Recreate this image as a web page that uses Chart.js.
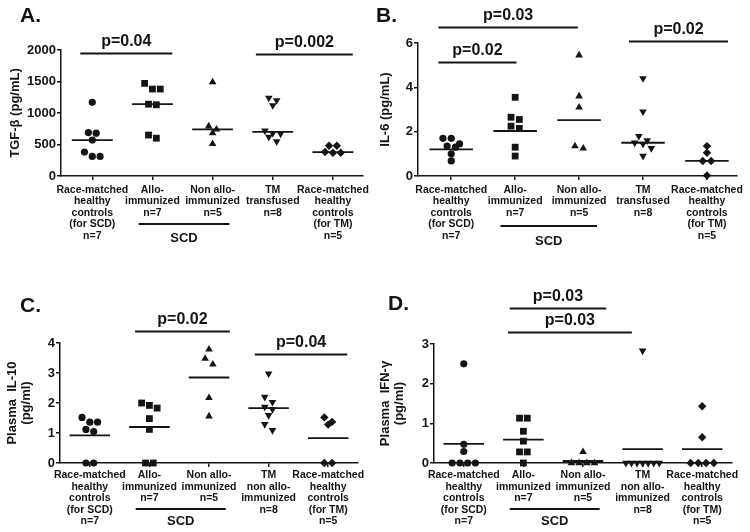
<!DOCTYPE html>
<html><head><meta charset="utf-8">
<script src="https://cdn.jsdelivr.net/npm/chart.js@4/dist/chart.umd.min.js"></script>
<style>
html,body{margin:0;padding:0;background:#fff;}
#wrap{position:relative;width:750px;height:532px;overflow:hidden;background:#fff;}
canvas{position:absolute;}
</style></head><body>
<div id="wrap">
<canvas id="cA" width="375" height="266" style="left:0;top:0"></canvas>
<canvas id="cB" width="375" height="266" style="left:375px;top:0"></canvas>
<canvas id="cC" width="375" height="266" style="left:0;top:266px"></canvas>
<canvas id="cD" width="375" height="266" style="left:375px;top:266px"></canvas>
</div>
<script>
// ---------- categories (tick labels) ----------
const categoriesTop = [
  ["Race-matched","healthy","controls","(for SCD)","n=7"],
  ["Allo-","immunized","n=7"],
  ["Non allo-","immunized","n=5"],
  ["TM","transfused","n=8"],
  ["Race-matched","healthy","controls","(for TM)","n=5"]
];
const categoriesBottom = [
  ["Race-matched","healthy","controls","(for SCD)","n=7"],
  ["Allo-","immunized","n=7"],
  ["Non allo-","immunized","n=5"],
  ["TM","non allo-","immunized","n=8"],
  ["Race-matched","healthy","controls","(for TM)","n=5"]
];

// ---------- A: TGF-beta (pg/mL) ----------
const tgfControlsSCD = [1170, 690, 680, 570, 380, 310, 310];
const tgfAllo        = [1470, 1380, 1380, 1140, 1130, 650, 600];
const tgfNonAllo     = [1490, 790, 740, 680, 510];
const tgfTM          = [1240, 1200, 1120, 720, 680, 670, 620, 550];
const tgfControlsTM  = [480, 480, 380, 370, 370];
const tgfLines       = [570, 1140, 740, 700, 380];
const tgfSig = [
  {from: -0.2, to: 1.33, y: 1952, label: "p=0.04"},
  {from: 2.72, to: 4.33, y: 1937, label: "p=0.002"}
];

// ---------- B: IL-6 (pg/mL) ----------
const il6ControlsSCD = [1.7, 1.7, 1.45, 1.35, 1.3, 1.0, 0.68];
const il6Allo        = [3.55, 2.65, 2.55, 2.25, 2.15, 1.3, 0.9];
const il6NonAllo     = [5.45, 3.6, 3.1, 1.35, 1.25];
const il6TM          = [4.4, 2.9, 1.8, 1.6, 1.5, 1.45, 1.25, 0.9];
const il6ControlsTM  = [1.35, 1.05, 0.68, 0.68, 0.02];
const il6Lines       = [1.2, 2.03, 2.52, 1.5, 0.68];
const il6Sig = [
  {from: -0.2, to: 1.98, y: 6.72, label: "p=0.03"},
  {from: -0.2, to: 1.02, y: 5.14, label: "p=0.02"},
  {from: 2.78, to: 4.33, y: 6.09, label: "p=0.02"}
];

// ---------- C: Plasma IL-10 (pg/ml) ----------
const il10ControlsSCD = [1.52, 1.36, 1.36, 1.12, 1.05, 0, 0];
const il10Allo        = [2.0, 1.92, 1.83, 1.48, 1.12, 0, 0];
const il10NonAllo     = [3.79, 3.48, 3.29, 2.17, 1.56];
const il10TM          = [2.98, 2.2, 2.03, 1.87, 1.79, 1.59, 1.29, 1.09];
const il10ControlsTM  = [1.52, 1.37, 1.28, 0, 0];
const il10Lines       = [0.92, 1.2, 2.85, 1.83, 0.83];
const il10Sig = [
  {from: 0.76, to: 2.35, y: 4.39, label: "p=0.02"},
  {from: 2.77, to: 4.32, y: 3.62, label: "p=0.04"}
];

// ---------- D: Plasma IFN-gamma (pg/ml) ----------
const ifnControlsSCD = [2.5, 0.47, 0.29, 0, 0, 0, 0];
const ifnAllo        = [1.13, 1.13, 0.8, 0.55, 0.28, 0.28, 0];
const ifnNonAllo     = [0.28, 0, 0, 0, 0];
const ifnTM          = [2.83, 0, 0, 0, 0, 0, 0, 0];
const ifnControlsTM  = [1.43, 0.65, 0, 0, 0, 0];
const ifnLines       = [0.48, 0.59, 0.05, 0.35, 0.35];
const ifnSig = [
  {from: 0.77, to: 2.39, y: 3.91, label: "p=0.03"},
  {from: 0.74, to: 2.82, y: 3.31, label: "p=0.03"}
];

// ---------- styling / layout (not data) ----------
const INK = '#141414';
const FAM = '"Liberation Sans", Arial, Helvetica, sans-serif';
Chart.defaults.font.family = FAM;
Chart.defaults.color = INK;

const markers = [
  {pointStyle: 'circle',   r: 3.6, rot: 0},
  {pointStyle: 'rect',     r: 4.8, rot: 0},
  {pointStyle: 'triangle', r: 4.4, rot: 0},
  {pointStyle: 'triangle', r: 4.4, rot: 180},
  {pointStyle: 'rectRot',  r: 4.2, rot: 0}
];

// spread points with close values side by side (column scatter layout)
function spread(values, yMax) {
  const thr = yMax * 0.05;
  const sorted = values.map((v, i) => ({v, i})).sort((a, b) => b.v - a.v);
  const clusters = [];
  sorted.forEach(p => {
    const c = clusters[clusters.length - 1];
    if (c && c[0].v - p.v < thr) c.push(p); else clusters.push([p]);
  });
  const offs = new Array(values.length).fill(0);
  clusters.forEach(c => {
    const n = c.length;
    const step = n > 1 ? Math.min(0.13, 0.56 / (n - 1)) : 0;
    c.forEach((p, k) => { offs[p.i] = (k - (n - 1) / 2) * step; });
  });
  return offs;
}

function makePanel(id, p) {
  const datasets = p.groups.map((vals, gi) => {
    const offs = spread(vals, p.yMax);
    const m = markers[gi];
    return {
      data: vals.map((v, k) => ({x: gi + offs[k], y: v})),
      pointStyle: m.pointStyle,
      pointRadius: m.r,
      pointRotation: m.rot,
      pointBackgroundColor: INK,
      pointBorderColor: INK,
      pointBorderWidth: 0,
      showLine: false,
      clip: false
    };
  });
  const lineData = [];
  p.lines.forEach((m, gi) => {
    lineData.push({x: gi - 0.34, y: m}, {x: gi + 0.34, y: m}, {x: gi + 0.5, y: null});
  });
  datasets.push({
    data: lineData, showLine: true, spanGaps: false, borderColor: INK, borderWidth: 1.8,
    pointRadius: 0, fill: false, clip: false
  });

  const annot = {
    id: 'annot',
    afterDraw(chart) {
      const ctx = chart.ctx, xs = chart.scales.x, ys = chart.scales.y, ca = chart.chartArea;
      ctx.save();
      ctx.fillStyle = INK; ctx.strokeStyle = INK;
      ctx.font = 'bold 21px ' + FAM;
      ctx.textAlign = 'left'; ctx.textBaseline = 'alphabetic';
      ctx.fillText(p.letter, p.letterX, p.letterY);
      ctx.lineWidth = 2;
      ctx.font = 'bold 16px ' + FAM;
      ctx.textAlign = 'center';
      p.sig.forEach(s => {
        const x1 = xs.getPixelForValue(s.from), x2 = xs.getPixelForValue(s.to);
        const y = Math.round(ys.getPixelForValue(s.y)) + 0.5;
        ctx.beginPath(); ctx.moveTo(x1, y); ctx.lineTo(x2, y); ctx.stroke();
        ctx.fillText(s.label, (x1 + x2) / 2, y - 8);
      });
      // SCD bracket under the two SCD groups
      const b1 = xs.getPixelForValue(0.77), b2 = xs.getPixelForValue(2.28);
      const by = ca.bottom + p.scdLine;
      ctx.lineWidth = 2;
      ctx.beginPath(); ctx.moveTo(b1, by); ctx.lineTo(b2, by); ctx.stroke();
      ctx.font = 'bold 13px ' + FAM;
      ctx.textBaseline = 'middle';
      ctx.fillText('SCD', (b1 + b2) / 2, ca.bottom + p.scdText);
      ctx.restore();
    }
  };

  new Chart(document.getElementById(id), {
    type: 'scatter',
    data: {datasets},
    plugins: [annot],
    options: {
      responsive: false, animation: false, events: [],
      devicePixelRatio: 1,
      layout: {padding: {top: p.top, right: p.right, left: 0, bottom: 0}},
      plugins: {legend: {display: false}, tooltip: {enabled: false}, title: {display: false}},
      scales: {
        x: {
          type: 'linear', min: p.xMin, max: p.xMax,
          afterBuildTicks: s => { s.ticks = p.categories.map((c, i) => ({value: i})); },
          afterFit: s => { s.height = p.xH; },
          ticks: {
            autoSkip: false, maxRotation: 0, minRotation: 0, padding: p.xPad, color: INK,
            font: {size: 10.5, weight: 'bold', lineHeight: 1.1},
            callback: (v) => p.categories[Math.round(v)]
          },
          grid: {display: true, drawOnChartArea: false, drawTicks: true, tickLength: 4, color: INK, lineWidth: 1.5},
          border: {display: true, color: INK, width: 1.5}
        },
        y: {
          min: 0, max: p.yMax,
          afterFit: s => { s.width = p.yW; },
          ticks: {stepSize: p.step, padding: 1, color: INK, font: {size: 13, weight: 'bold'},
                  callback: v => String(v)},
          grid: {display: true, drawOnChartArea: false, drawTicks: true, tickLength: 4, color: INK, lineWidth: 1.5},
          border: {display: true, color: INK, width: 1.5},
          title: {display: true, text: p.yTitle, color: INK, padding: {top: p.titlePad, bottom: 0},
                  font: {size: 13, weight: 'bold', lineHeight: 1.08}}
        }
      }
    }
  });
}

makePanel('cA', {
  letter: 'A.', letterX: 20, letterY: 22,
  groups: [tgfControlsSCD, tgfAllo, tgfNonAllo, tgfTM, tgfControlsTM],
  lines: tgfLines, sig: tgfSig, categories: categoriesTop,
  yMax: 2000, step: 500, yTitle: 'TGF-β (pg/mL)', titlePad: 8,
  yW: 61, top: 50, right: 12, xH: 90, xPad: 4, xMin: -0.52, xMax: 4.5,
  scdLine: 48, scdText: 62
});
makePanel('cB', {
  letter: 'B.', letterX: 1, letterY: 22,
  groups: [il6ControlsSCD, il6Allo, il6NonAllo, il6TM, il6ControlsTM],
  lines: il6Lines, sig: il6Sig, categories: categoriesTop,
  yMax: 6, step: 2, yTitle: 'IL-6 (pg/mL)', titlePad: 3,
  yW: 43, top: 43, right: 13, xH: 90, xPad: 4, xMin: -0.52, xMax: 4.47,
  scdLine: 50, scdText: 65
});
makePanel('cC', {
  letter: 'C.', letterX: 20, letterY: 46,
  groups: [il10ControlsSCD, il10Allo, il10NonAllo, il10TM, il10ControlsTM],
  lines: il10Lines, sig: il10Sig, categories: categoriesBottom,
  yMax: 4, step: 1, yTitle: ['Plasma  IL-10', '(pg/ml)'], titlePad: 5,
  yW: 60, top: 77, right: 17, xH: 69, xPad: 2.5, xMin: -0.5, xMax: 4.5,
  scdLine: 46, scdText: 58
});
makePanel('cD', {
  letter: 'D.', letterX: 13, letterY: 44,
  groups: [ifnControlsSCD, ifnAllo, ifnNonAllo, ifnTM, ifnControlsTM],
  lines: ifnLines, sig: ifnSig, categories: categoriesBottom,
  yMax: 3, step: 1, yTitle: ['Plasma  IFN-γ', '(pg/ml)'], titlePad: 3,
  yW: 59, top: 78, right: 18, xH: 69, xPad: 2.5, xMin: -0.5, xMax: 4.5,
  scdLine: 46, scdText: 58
});
</script>
</body></html>
